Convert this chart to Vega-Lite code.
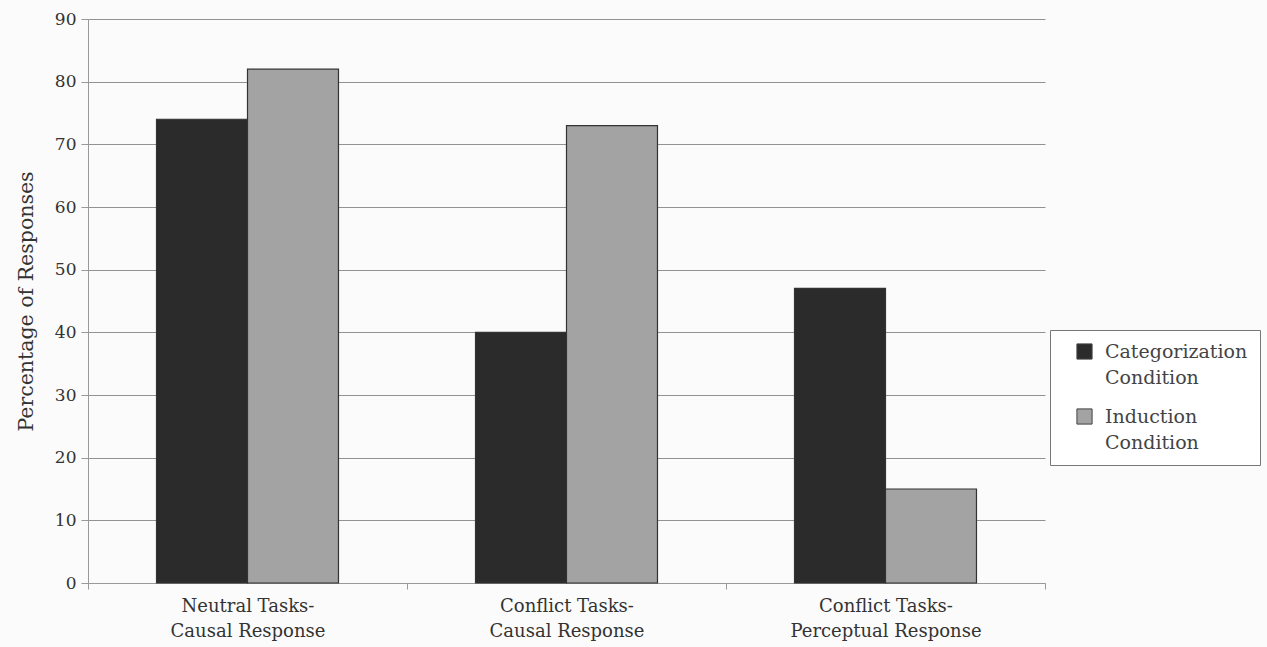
{
  "$schema": "https://vega.github.io/schema/vega-lite/v6.json",
  "width": 957,
  "height": 564,
  "autosize": "none",
  "padding": {"left": 88, "top": 19, "right": 222, "bottom": 64},
  "background": "#fbfbfb",
  "data": {
    "values": [
      {"task": "Neutral Tasks-Causal Response", "condition": "Categorization Condition", "pct": 74},
      {"task": "Neutral Tasks-Causal Response", "condition": "Induction Condition", "pct": 82},
      {"task": "Conflict Tasks-Causal Response", "condition": "Categorization Condition", "pct": 40},
      {"task": "Conflict Tasks-Causal Response", "condition": "Induction Condition", "pct": 73},
      {"task": "Conflict Tasks-Perceptual Response", "condition": "Categorization Condition", "pct": 47},
      {"task": "Conflict Tasks-Perceptual Response", "condition": "Induction Condition", "pct": 15}
    ]
  },
  "config": {
    "font": "DejaVu Serif",
    "view": {"stroke": null}
  },
  "mark": {"type": "bar", "stroke": "#333333", "strokeWidth": 1.2},
  "encoding": {
    "x": {
      "field": "task",
      "type": "nominal",
      "sort": null,
      "scale": {"paddingInner": 0, "paddingOuter": 0},
      "axis": {
        "title": null,
        "labelAngle": 0,
        "labelFontSize": 18,
        "labelColor": "#333333",
        "labelLineHeight": 25,
        "labelPadding": 8,
        "labelLimit": 400,
        "labelExpr": "[slice(datum.label, 0, indexof(datum.label, '-') + 1), slice(datum.label, indexof(datum.label, '-') + 1)]",
        "tickBand": "extent",
        "tickColor": "#999999",
        "tickSize": 6,
        "domainColor": "#999999",
        "grid": false
      }
    },
    "xOffset": {"field": "condition", "type": "nominal", "scale": {"paddingInner": 0, "paddingOuter": 0.753}},
    "y": {
      "field": "pct",
      "type": "quantitative",
      "scale": {"domain": [0, 90]},
      "axis": {
        "title": "Percentage of Responses",
        "titleFontSize": 20.5,
        "titleFontWeight": "normal",
        "titleColor": "#333333",
        "titlePadding": 18,
        "values": [0, 10, 20, 30, 40, 50, 60, 70, 80, 90],
        "labelFontSize": 17,
        "labelColor": "#333333",
        "labelPadding": 5,
        "tickColor": "#999999",
        "tickSize": 7,
        "domainColor": "#999999",
        "gridColor": "#929292",
        "gridWidth": 1.2
      }
    },
    "color": {
      "field": "condition",
      "type": "nominal",
      "scale": {"range": ["#2b2b2b", "#a3a3a3"]},
      "legend": {
        "title": null,
        "orient": "none",
        "legendX": 962,
        "legendY": 311,
        "direction": "vertical",
        "strokeColor": "#777777",
        "fillColor": "#ffffff",
        "padding": 12,
        "symbolOffset": 13,
        "symbolType": "square",
        "symbolSize": 230,
        "symbolStrokeColor": "#444444",
        "symbolStrokeWidth": 1,
        "labelFontSize": 19,
        "labelColor": "#444444",
        "labelLimit": 300,
        "labelOffset": 11,
        "rowPadding": 18,
        "labelExpr": "split(datum.label, ' ')",
        "encode": {"labels": {"update": {"lineHeight": {"value": 26}}}}
      }
    }
  }
}
